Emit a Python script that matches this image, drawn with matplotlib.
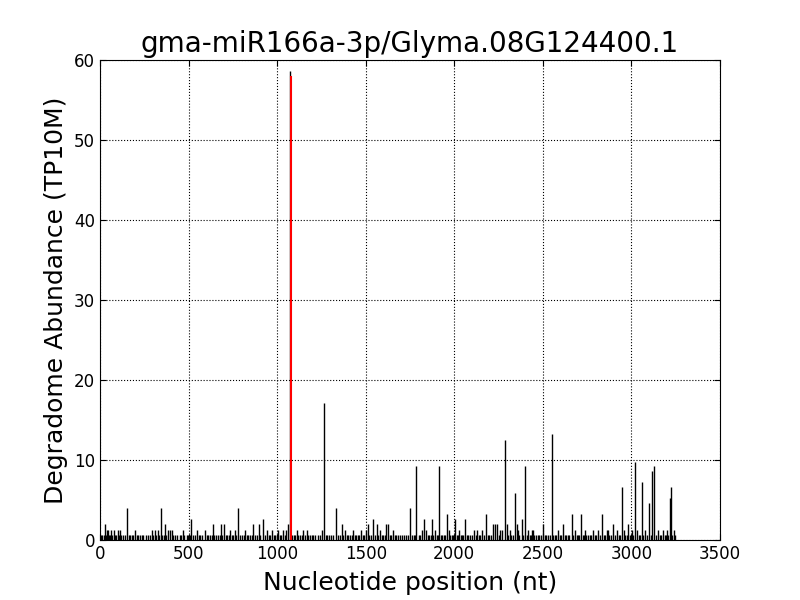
import matplotlib
matplotlib.use('Agg')
import matplotlib.pyplot as plt

title = 'gma-miR166a-3p/Glyma.08G124400.1'

# single-read background signal (TP10M)
base_pos = [5, 14, 22, 33, 51, 57, 70, 86, 93, 108, 120, 131, 140, 163, 171, 180, 189, 207,
            215, 226, 236, 244, 258, 270, 282, 301, 318, 335, 352, 360, 375, 414, 425, 437,
            450, 460, 477, 491, 499, 507, 525, 536, 557, 566, 578, 602, 611, 620, 631, 646,
            655, 667, 676, 691, 710, 719, 727, 743, 752, 770, 790, 800, 811, 828, 838, 848,
            857, 875, 884, 906, 930, 952, 960, 980, 990, 997, 1016, 1024, 1042, 1085, 1094,
            1103, 1120, 1130, 1138, 1157, 1176, 1185, 1196, 1205, 1216, 1228, 1240, 1274,
            1283, 1292, 1302, 1318, 1345, 1355, 1373, 1392, 1402, 1412, 1420, 1437, 1446,
            1455, 1464, 1482, 1491, 1521, 1531, 1550, 1572, 1590, 1600, 1607, 1636, 1645,
            1663, 1672, 1684, 1694, 1704, 1716, 1726, 1740, 1760, 1772, 1778, 1800, 1809,
            1850, 1858, 1866, 1882, 1900, 1906, 1924, 1933, 1942, 1950, 1978, 1987, 1995,
            2013, 2020, 2036, 2045, 2052, 2070, 2080, 2090, 2100, 2120, 2137, 2146, 2165,
            2188, 2198, 2208, 2250, 2306, 2322, 2332, 2368, 2390, 2408, 2425, 2432, 2452,
            2462, 2470, 2480, 2490, 2510, 2520, 2530, 2540, 2560, 2568, 2577, 2595, 2604,
            2624, 2633, 2641, 2650, 2672, 2690, 2698, 2706, 2724, 2730, 2746, 2755, 2764,
            2773, 2792, 2802, 2820, 2845, 2853, 2876, 2885, 2905, 2928, 2937, 2966, 2973,
            2990, 3010, 3040, 3048, 3068, 3088, 3108, 3136, 3160, 3168, 3188, 3195, 3208,
            3228, 3248]
base_val = 0.66

peak_pos = [28, 40, 45, 62, 79, 102, 113, 152, 198, 294, 310, 327, 344, 367, 384, 395, 406,
            468, 514, 548, 593, 638, 683, 700, 734, 762, 779, 819, 864, 898, 920, 943, 971,
            1005, 1033, 1050, 1061, 1073, 1112, 1146, 1168, 1253, 1264, 1332, 1366, 1383,
            1428, 1473, 1502, 1513, 1541, 1564, 1581, 1614, 1626, 1654, 1750, 1784, 1818,
            1829, 1840, 1874, 1891, 1914, 1959, 1970, 2004, 2027, 2060, 2111, 2128, 2156,
            2179, 2218, 2230, 2241, 2258, 2269, 2286, 2298, 2314, 2343, 2354, 2360, 2382,
            2399, 2416, 2439, 2444, 2501, 2551, 2585, 2614, 2664, 2681, 2715, 2738, 2783,
            2811, 2834, 2862, 2868, 2896, 2918, 2947, 2958, 2981, 3003, 3020, 3031, 3060,
            3077, 3099, 3116, 3127, 3150, 3178, 3201, 3218, 3225, 3240]
peak_val = [2.0, 1.3, 1.3, 1.3, 1.3, 1.3, 1.3, 3.95, 1.3, 1.3, 1.3, 1.3, 3.95, 2.0, 1.3, 1.3, 1.3,
            1.3, 2.6, 1.3, 1.3, 2.0, 2.0, 2.0, 1.3, 1.3, 3.95, 1.3, 2.0, 2.0, 2.6, 1.3, 1.3,
            1.3, 1.3, 1.3, 2.0, 58.6, 1.3, 1.3, 1.3, 1.3, 17.1, 3.95, 2.0, 1.3,
            1.3, 1.3, 1.3, 2.0, 2.6, 2.0, 1.3, 2.0, 2.0, 1.3, 3.95, 9.2, 1.3,
            2.6, 1.3, 2.6, 1.3, 9.2, 3.3, 1.3, 2.6, 1.3, 2.6, 1.3, 1.3, 1.3,
            3.3, 2.0, 2.0, 2.0, 1.3, 1.3, 12.5, 2.0, 1.3, 5.9, 2.0, 1.3, 2.6,
            9.2, 1.3, 1.3, 1.3, 2.0, 13.2, 1.3, 2.0, 3.3, 1.3, 3.3, 1.3, 1.3,
            1.3, 3.3, 1.3, 1.3, 2.0, 1.3, 6.6, 1.3, 2.0, 1.3, 9.8, 1.3, 7.2,
            1.3, 4.6, 8.6, 9.2, 1.3, 1.3, 1.3, 5.3, 6.6, 1.3]

# predicted cleavage site
site_pos = 1076
site_val = 58.0


fig = plt.figure(figsize=(8, 6), dpi=100)
ax = fig.add_axes([0.125, 0.1, 0.775, 0.8])

ax.vlines(base_pos, 0, base_val, color='black', linewidth=1)
ax.vlines(peak_pos, 0, peak_val, color='black', linewidth=1)
ax.vlines([site_pos], 0, [site_val], color='red', linewidth=1.5)

ax.set_xlim(0, 3500)
ax.set_ylim(0, 60)
ax.set_xticks(range(0, 3501, 500))
ax.set_yticks(range(0, 61, 10))
ax.tick_params(direction='in', top=True, right=True, labelsize=12, length=4)
ax.grid(True, color='black', linestyle=':', linewidth=0.8)
ax.set_axisbelow(True)

ax.set_title(title, fontsize=20)
ax.set_xlabel('Nucleotide position (nt)', fontsize=18, labelpad=6)
ax.set_ylabel('Degradome Abundance (TP10M)', fontsize=18)

plt.savefig('out.png', dpi=100, facecolor='white')
